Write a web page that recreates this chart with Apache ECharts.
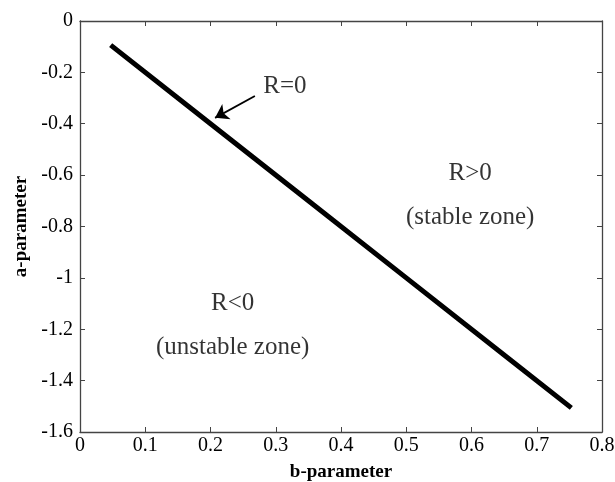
<!DOCTYPE html>
<html>
<head>
<meta charset="utf-8">
<script src="https://cdn.jsdelivr.net/npm/echarts@6/dist/echarts.min.js"></script>
<style>html,body{margin:0;padding:0;background:#fff}#c{width:615px;height:482px}</style>
</head>
<body>
<div id="c"></div>
<script>
var bValues = [0.05, 0.2, 0.35, 0.5, 0.65, 0.75];
var aValues = [-0.1, -0.4, -0.7, -1.0, -1.3, -1.5];
var xTicks = [0, 0.1, 0.2, 0.3, 0.4, 0.5, 0.6, 0.7, 0.8];
var yTicks = [0, -0.2, -0.4, -0.6, -0.8, -1, -1.2, -1.4, -1.6];
var annTexts = ['R=0', 'R>0', '(stable zone)', 'R<0', '(unstable zone)'];
var annX = [0.314, 0.598, 0.598, 0.234, 0.234];
var annY = [-0.253, -0.592, -0.763, -1.098, -1.269];
var arrowFrom = [0.268, -0.292];
var arrowTo = [0.207, -0.377];

var serif = '"Liberation Serif", "DejaVu Serif", serif';
var axisCol = '#444';
var chart = echarts.init(document.getElementById('c'));
var lineData = bValues.map(function (b, i) { return [b, aValues[i]]; });
var annData = annTexts.map(function (t, i) { return { value: [annX[i], annY[i]], name: t }; });

function mkX(pos, showLabel, name) {
  return {
    type: 'value', position: pos, min: 0, max: 0.8, interval: 0.1,
    name: name || '', nameLocation: 'middle', nameGap: 31,
    nameTextStyle: { fontFamily: serif, fontWeight: 'bold', fontSize: 19, color: '#000' },
    axisLine: { show: true, onZero: false, lineStyle: { color: axisCol, width: 1.3 } },
    axisTick: { show: true, inside: true, length: 5, lineStyle: { color: axisCol } },
    axisLabel: { show: showLabel, fontFamily: serif, fontSize: 20, color: '#000', margin: 4,
      formatter: function (v) { return String(Math.round(v * 10) / 10); } },
    splitLine: { show: false }
  };
}
function mkY(pos, showLabel, name) {
  return {
    type: 'value', position: pos, min: -1.6, max: 0, interval: 0.2,
    name: name || '', nameLocation: 'middle', nameGap: 47,
    nameTextStyle: { fontFamily: serif, fontWeight: 'bold', fontSize: 19, color: '#000' },
    axisLine: { show: true, onZero: false, lineStyle: { color: axisCol, width: 1.3 } },
    axisTick: { show: true, inside: true, length: 5, lineStyle: { color: axisCol } },
    axisLabel: { show: showLabel, fontFamily: serif, fontSize: 20, color: '#000', margin: 7,
      formatter: function (v) { return String(Math.round(v * 10) / 10); } },
    splitLine: { show: false }
  };
}

chart.setOption({
  animation: false,
  backgroundColor: '#fff',
  grid: { left: 80, right: 13, top: 21, bottom: 50, containLabel: false, outerBoundsMode: 'none' },
  xAxis: [mkX('bottom', true, 'b-parameter'), mkX('top', false)],
  yAxis: [mkY('left', true, 'a-parameter'), mkY('right', false)],
  series: [
    {
      type: 'line', data: lineData, symbol: 'none', smooth: false,
      lineStyle: { color: '#000', width: 5, cap: 'square' },
      markLine: {
        silent: true, symbol: ['none', 'arrow'], symbolSize: 13,
        lineStyle: { color: '#000', width: 1.8, type: 'solid' },
        itemStyle: { color: '#000' },
        label: { show: false },
        data: [[{ coord: arrowFrom }, { coord: arrowTo }]]
      }
    },
    {
      type: 'scatter', data: annData, symbolSize: 0,
      label: { show: true, position: 'inside', formatter: '{b}',
        fontFamily: serif, fontSize: 25, color: '#000' }
    }
  ]
});
</script>
</body>
</html>
